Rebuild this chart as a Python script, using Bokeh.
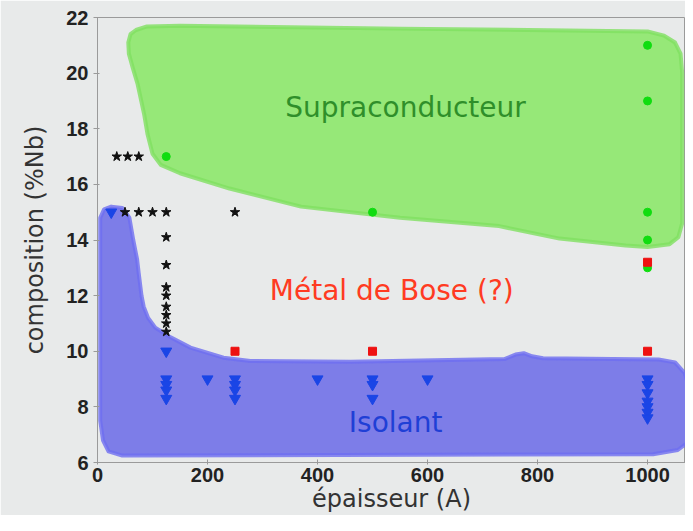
from bokeh.plotting import figure
from bokeh.models import Range1d, FixedTicker
from bokeh.core.properties import value
from bokeh.embed import file_html
from bokeh.resources import INLINE

# ---- data ----
x_ticks = [0, 200, 400, 600, 800, 1000]
y_ticks = [6, 8, 10, 12, 14, 16, 18, 20, 22]

star_x = [35, 55, 75, 50, 75, 100, 125, 250, 125, 125, 125, 125, 125, 125, 125, 125]
star_y = [17, 17, 17, 15, 15, 15, 15, 15, 14.1, 13.1, 12.3, 12.0, 11.6, 11.3, 11.0, 10.7]

tri_x = [25, 125, 125, 125, 125, 125, 200, 250, 250, 250, 250, 400, 500, 500, 500, 600,
         1000, 1000, 1000, 1000, 1000, 1000, 1000]
tri_y = [15, 10, 9, 8.8, 8.6, 8.3, 9, 9, 8.8, 8.6, 8.3, 9, 9, 8.8, 8.3, 9,
         9, 8.8, 8.5, 8.2, 8.0, 7.8, 7.6]

sq_x = [250, 500, 1000, 1000]
sq_y = [10, 10, 10, 13.2]

circ_x = [125, 500, 1000, 1000, 1000, 1000, 1000]
circ_y = [17, 15, 21, 19, 15, 14, 13]

sc_x = [70, 90, 150, 550, 1000, 1030, 1050, 1060, 1063, 1063, 1056, 1040, 1000, 960, 840, 730,
        550, 370, 240, 150, 115, 100, 91, 85, 73, 64, 57, 56, 60]
sc_y = [21.55, 21.68, 21.7, 21.6, 21.5, 21.35, 21.1, 20.7, 20.0, 14.6, 14.1, 13.85, 13.75, 13.8,
        14.05, 14.5, 14.8, 15.2, 15.85, 16.4, 16.7, 17.1, 17.8, 18.5, 19.6, 20.2, 20.7, 21.1, 21.4]

iso_x = [5, 12, 25, 45, 58, 65, 72, 75, 80, 84, 92, 105, 133, 169, 229, 278, 460, 740, 760, 775,
         790, 810, 1020, 1050, 1068, 1078, 1078, 1072, 1055, 1010, 45, 20, 10, 5]
iso_y = [14.8, 15.1, 15.2, 15.15, 14.8, 14.0, 13.3, 12.8, 12.0, 11.6, 11.2, 10.85, 10.5, 10.13,
         9.77, 9.65, 9.62, 9.72, 9.88, 9.93, 9.82, 9.75, 9.7, 9.6, 9.2, 8.5, 7.2, 6.7, 6.45, 6.3,
         6.25, 6.4, 6.8, 7.5]

labels = ["Supraconducteur", "Métal de Bose (?)", "Isolant"]
label_x = [560, 535, 542]
label_y = [18.76, 12.18, 7.43]
label_colors = ["#2f8f2a", "#ff3b22", "#1f3fd6"]

BG = "#e8eaea"

p = figure(width=685, height=515, output_backend="svg", toolbar_location=None,
           x_range=Range1d(0, 1069), y_range=Range1d(6, 22),
           min_border_left=97, min_border_right=0, min_border_top=17, min_border_bottom=10)
p.background_fill_color = BG
p.border_fill_color = BG
p.outline_line_color = "#9a9a9a"
p.grid.visible = False

# regions
p.patch(sc_x, sc_y, fill_color="#96e878", line_color="#80e060", line_width=4, line_alpha=0.8,
        line_join="round")
p.patch(iso_x, iso_y, fill_color="#7d7de8", line_color="#6e6ef0", line_width=4, line_alpha=0.8,
        line_join="round")

# points
p.scatter(star_x, star_y, marker="star", size=10, fill_color="#111111", line_color="#111111")
p.scatter(tri_x, tri_y, marker="inverted_triangle", size=11, fill_color="#1a45e6",
          line_color="#1a45e6")
p.scatter(circ_x, circ_y, marker="circle", size=8, fill_color="#10dd10", line_color="#10dd10")
p.scatter(sq_x, sq_y, marker="square", size=8, fill_color="#ee1111", line_color="#ee1111")

for t, x, y, c in zip(labels, label_x, label_y, label_colors):
    p.text([x], [y], text=[t], text_color=c, text_font=value("DejaVu Sans"),
           text_font_size="28px", text_align="center", text_baseline="middle")

# axes
for ax in (p.xaxis[0], p.yaxis[0]):
    ax.axis_line_color = "#9a9a9a"
    ax.major_tick_line_color = "#9a9a9a"
    ax.minor_tick_line_color = None
    ax.major_label_text_font = "Liberation Sans"
    ax.major_label_text_font_style = "bold"
    ax.major_label_text_font_size = "20px"
    ax.major_label_text_color = "#222222"
    ax.axis_label_text_font = "DejaVu Sans"
    ax.axis_label_text_font_style = "normal"
    ax.axis_label_text_font_size = "24px"
    ax.axis_label_text_color = "#333333"

p.xaxis.ticker = FixedTicker(ticks=x_ticks)
p.yaxis.ticker = FixedTicker(ticks=y_ticks)
p.xaxis.major_tick_in = 3
p.xaxis.major_tick_out = 2
p.yaxis.major_tick_in = 2
p.yaxis.major_tick_out = 4
p.xaxis.major_label_standoff = 3
p.xaxis.axis_label = "épaisseur (A)"
p.yaxis.axis_label = "composition (%Nb)"
p.xaxis.axis_label_standoff = 0
p.yaxis.axis_label_standoff = 14

open("out.html", "w").write(file_html(p, INLINE))
